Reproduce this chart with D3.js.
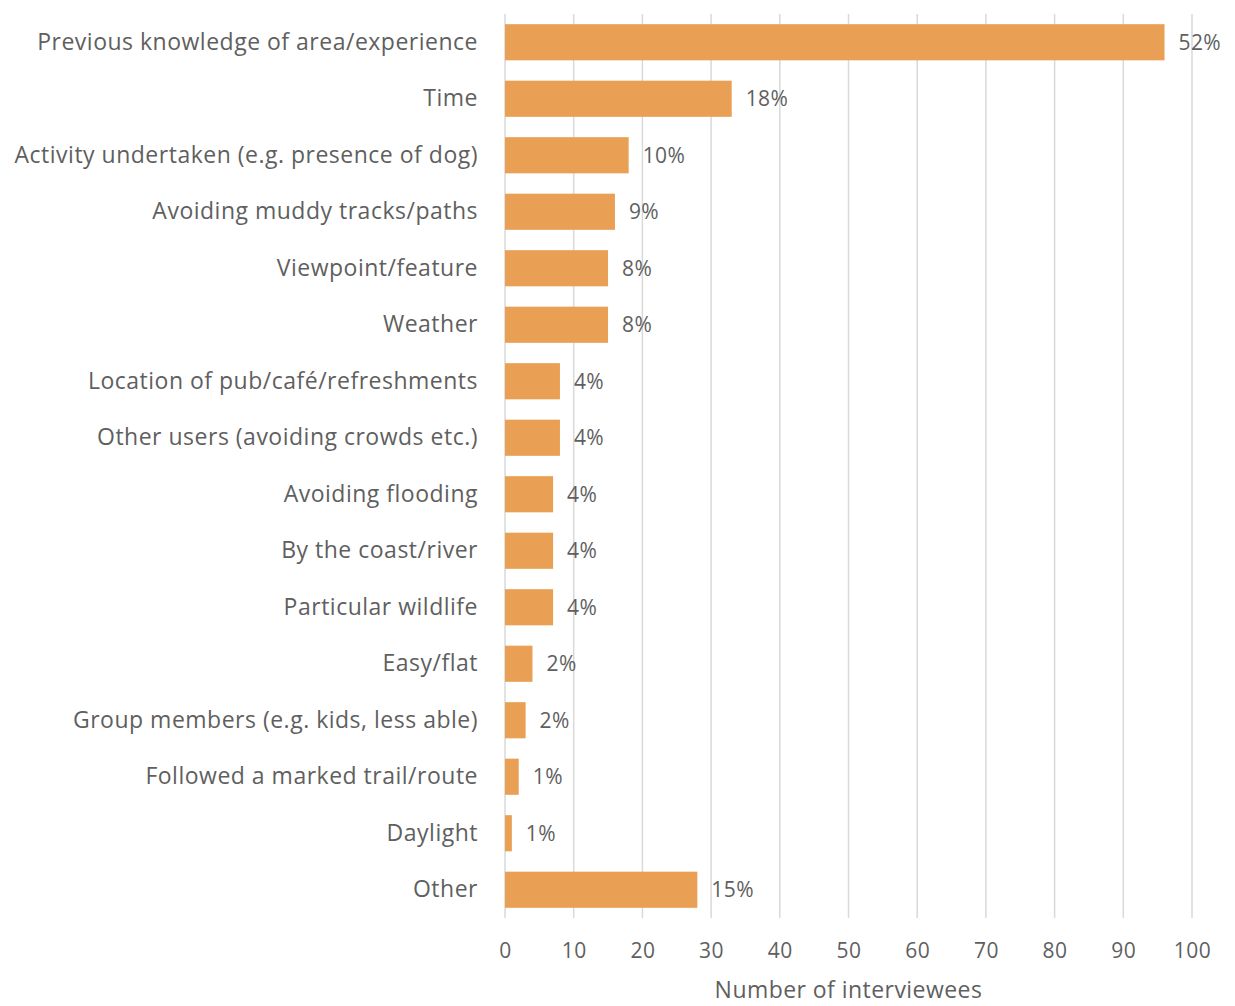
<!DOCTYPE html>
<html>
<head>
<meta charset="utf-8">
<script src="https://cdn.jsdelivr.net/npm/d3@7"></script>
<style>
  html, body { margin: 0; padding: 0; background: #fff; }
  svg { display: block; }
  text { font-family: "Open Sans", Lato, sans-serif; fill: #5f5f5f; }
</style>
</head>
<body>
<svg id="chart" width="1235" height="1006"></svg>
<script>
// Reasons given for route choice
const categories = [
  "Previous knowledge of area/experience",
  "Time",
  "Activity undertaken (e.g. presence of dog)",
  "Avoiding muddy tracks/paths",
  "Viewpoint/feature",
  "Weather",
  "Location of pub/café/refreshments",
  "Other users (avoiding crowds etc.)",
  "Avoiding flooding",
  "By the coast/river",
  "Particular wildlife",
  "Easy/flat",
  "Group members (e.g. kids, less able)",
  "Followed a marked trail/route",
  "Daylight",
  "Other"
];
const counts = [96, 33, 18, 16, 15, 15, 8, 8, 7, 7, 7, 4, 3, 2, 1, 28];
const percentLabels = ["52%", "18%", "10%", "9%", "8%", "8%", "4%", "4%", "4%", "4%", "4%", "2%", "2%", "1%", "1%", "15%"];
const xTicks = [0, 10, 20, 30, 40, 50, 60, 70, 80, 90, 100];
const xTitle = "Number of interviewees";

const FONT = "'Open Sans', Lato, sans-serif";
const TEXT = "#5f5f5f";

const svg = d3.select("#chart");
const margin = { top: 14, right: 43, bottom: 88, left: 505 };
const width = 1235 - margin.left - margin.right;
const height = 1006 - margin.top - margin.bottom;

const g = svg.append("g").attr("transform", `translate(${margin.left},${margin.top})`);

const x = d3.scaleLinear().domain([0, 100]).range([0, width]);
const y = d3.scaleBand().domain(categories).range([0, height]).paddingInner(0.36).paddingOuter(0.18);

// vertical gridlines
g.append("g")
  .selectAll("line")
  .data(xTicks)
  .join("line")
  .attr("x1", d => x(d)).attr("x2", d => x(d))
  .attr("y1", 0).attr("y2", height)
  .attr("stroke", "#d9d9d9")
  .attr("stroke-width", 1.5);

// bars
g.append("g")
  .selectAll("rect")
  .data(counts)
  .join("rect")
  .attr("x", x(0))
  .attr("y", (d, i) => y(categories[i]))
  .attr("width", d => x(d) - x(0))
  .attr("height", y.bandwidth())
  .attr("fill", "#E9A055");

// value labels
g.append("g")
  .selectAll("text")
  .data(counts)
  .join("text")
  .attr("x", d => x(d) + 14)
  .attr("y", (d, i) => y(categories[i]) + y.bandwidth() / 2)
  .attr("dy", "0.35em")
  .attr("font-size", 21)
  .attr("letter-spacing", 0.4)
  .text((d, i) => percentLabels[i]);

// category axis
const yAxis = g.append("g").call(d3.axisLeft(y).tickSize(0).tickPadding(27));
yAxis.select(".domain").remove();
yAxis.selectAll("text")
  .attr("font-size", 23)
  .attr("letter-spacing", 0.5)
  .style("font-family", FONT)
  .attr("fill", TEXT);

// value axis
const xAxis = g.append("g")
  .attr("transform", `translate(0,${height})`)
  .call(d3.axisBottom(x).tickValues(xTicks).tickSize(0).tickPadding(25));
xAxis.select(".domain").remove();
xAxis.selectAll("text")
  .attr("font-size", 21)
  .attr("letter-spacing", 0.5)
  .style("font-family", FONT)
  .attr("fill", TEXT);

// axis title
g.append("text")
  .attr("x", width / 2 + 0)
  .attr("y", height + 80)
  .attr("text-anchor", "middle")
  .attr("font-size", 23)
  .attr("letter-spacing", 0.45)
  .text(xTitle);
</script>
</body>
</html>
